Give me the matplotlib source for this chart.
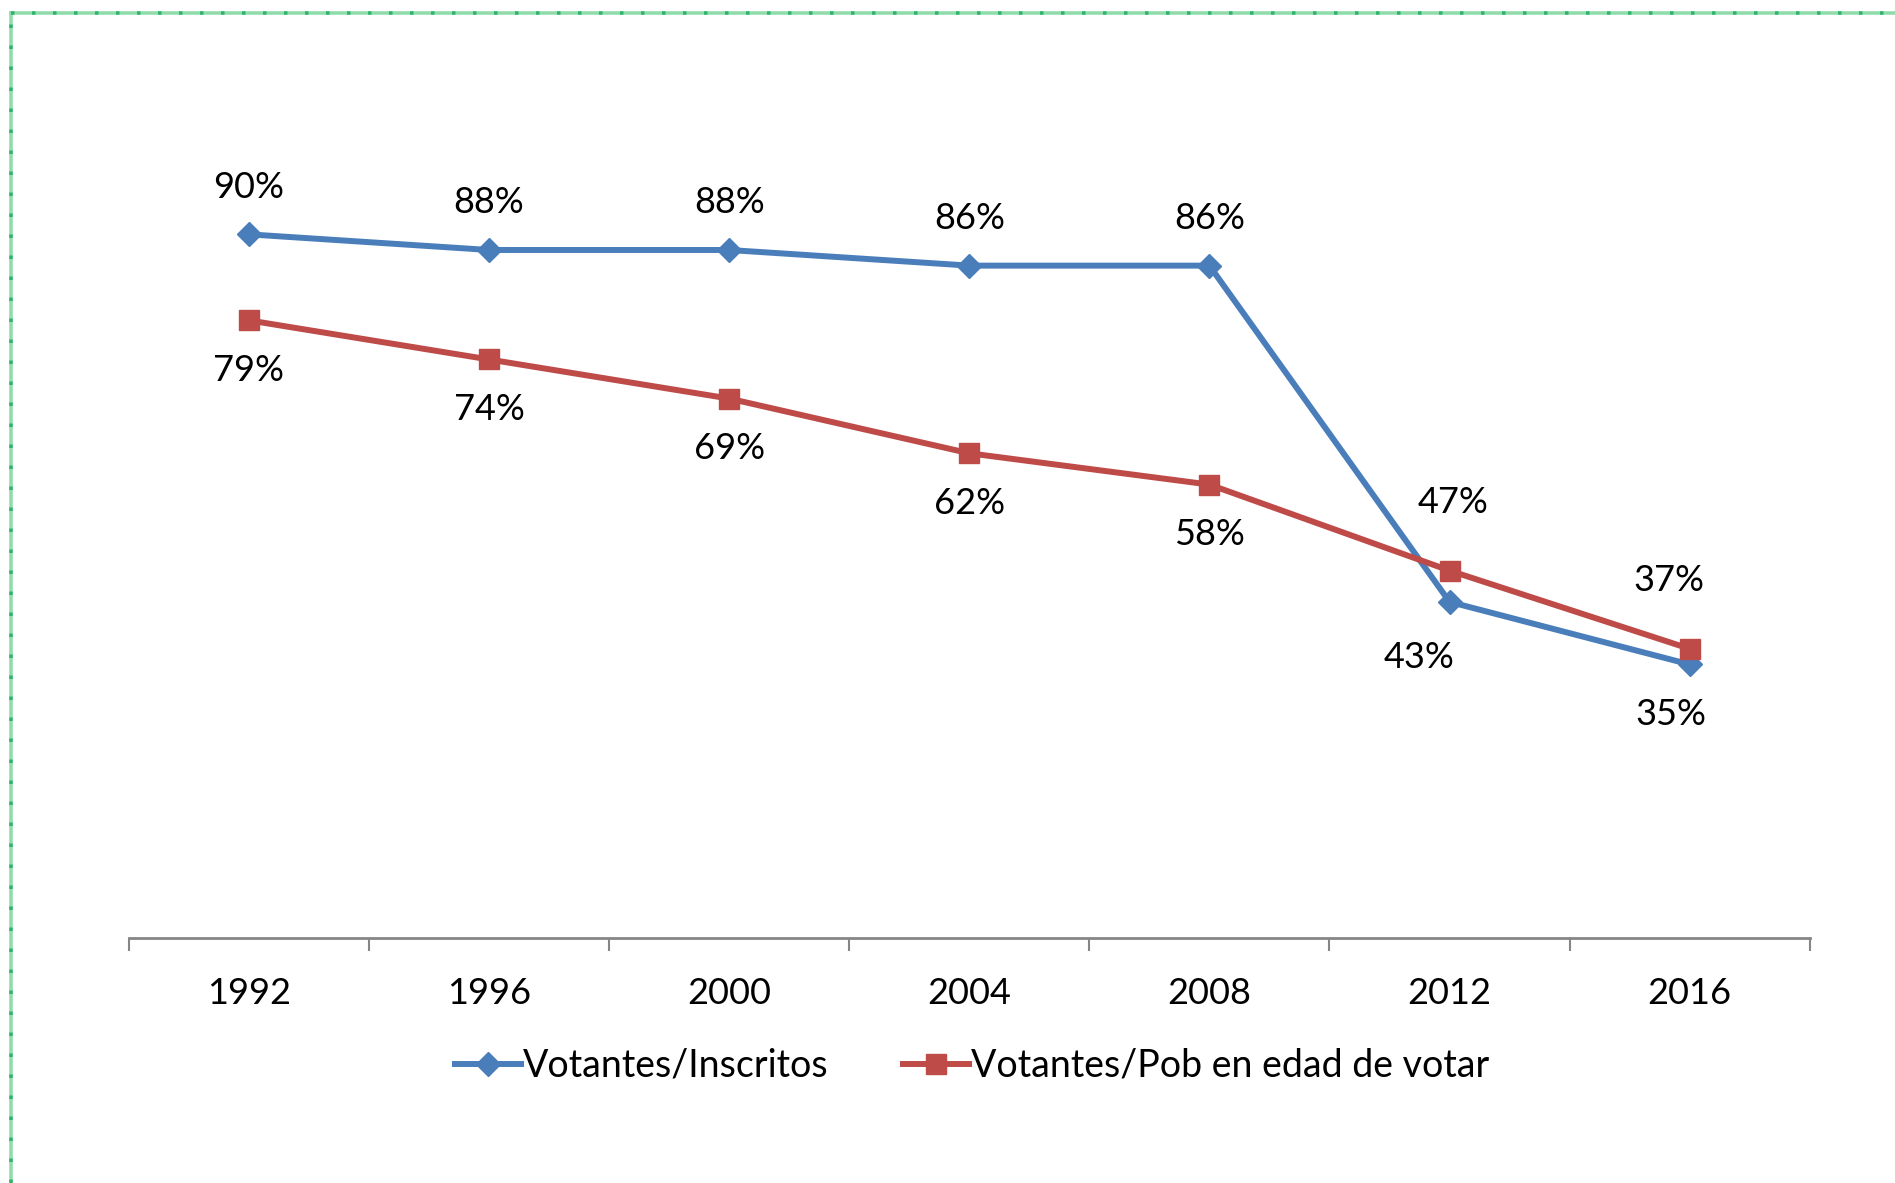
import matplotlib.pyplot as plt
from matplotlib.lines import Line2D
from matplotlib.ticker import FixedLocator

plt.rcParams['font.family'] = ['Lato', 'DejaVu Sans']

years = ['1992', '1996', '2000', '2004', '2008', '2012', '2016']
inscritos = [90, 88, 88, 86, 86, 43, 35]
pob_edad = [79, 74, 69, 62, 58, 47, 37]

# label offsets in pixels (dx, dy), positive dy = up
off_blue = [(0, 47), (0, 47), (0, 47), (0, 47), (0, 47), (-30, -56), (-19, -50)]
off_red = [(0, -50), (0, -50), (0, -50), (0, -50), (0, -50), (4, 68), (-21, 68)]

BLUE = '#4A7EBB'
RED = '#BE4B48'


def main():
    fig = plt.figure(figsize=(18.95, 11.83), dpi=100)
    ax = fig.add_axes([0.068, 0.207, 0.887, 0.661])

    x = list(range(len(years)))
    ax.plot(x, inscritos, color=BLUE, lw=4.3, marker='D', ms=12,
            mec=BLUE, mfc=BLUE, label='Votantes/Inscritos', zorder=3)
    ax.plot(x, pob_edad, color=RED, lw=4.3, marker='s', ms=15,
            mec=RED, mfc=RED, label='Votantes/Pob en edad de votar', zorder=3)

    for i, v in enumerate(inscritos):
        dx, dy = off_blue[i]
        ax.annotate(f'{v}%', (i, v), xytext=(dx * 0.72, dy * 0.72),
                    textcoords='offset points', ha='center', va='center',
                    fontsize=26, color='black')
    for i, v in enumerate(pob_edad):
        dx, dy = off_red[i]
        ax.annotate(f'{v}%', (i, v), xytext=(dx * 0.72, dy * 0.72),
                    textcoords='offset points', ha='center', va='center',
                    fontsize=26, color='black')

    ax.set_xlim(-0.5, len(years) - 0.5)
    ax.set_ylim(0, 100)
    ax.set_xticks(x)
    ax.set_xticklabels(years, fontsize=26)
    ax.tick_params(axis='x', which='major', length=0, pad=28)
    ax.xaxis.set_minor_locator(FixedLocator([i - 0.5 for i in range(len(years) + 1)]))
    ax.tick_params(axis='x', which='minor', length=9.5, width=1.5, color='#868686')
    ax.set_yticks([])
    for s in ['top', 'right', 'left']:
        ax.spines[s].set_visible(False)
    ax.spines['bottom'].set_color('#868686')
    ax.spines['bottom'].set_linewidth(2)

    fig.legend(loc='center', bbox_to_anchor=(0.513, 0.099), ncol=2, frameon=False,
               fontsize=27, handlelength=1.75, handletextpad=0.05, columnspacing=2.0)

    # green dotted frame (only top and left visible)
    x0 = 11 / 1895
    y0 = 1 - 13 / 1183
    for c, ls, w in [('#8fdcaa', '-', 3.5), ('#2fb36a', (0, (1, 5)), 3.5)]:
        fig.add_artist(Line2D([x0, x0], [0, y0], transform=fig.transFigure,
                              color=c, lw=w * 0.72, ls=ls))
        fig.add_artist(Line2D([x0, 1], [y0, y0], transform=fig.transFigure,
                              color=c, lw=w * 0.72, ls=ls))

    fig.savefig('out.png', dpi=100)


if __name__ == "__main__":
    main()
